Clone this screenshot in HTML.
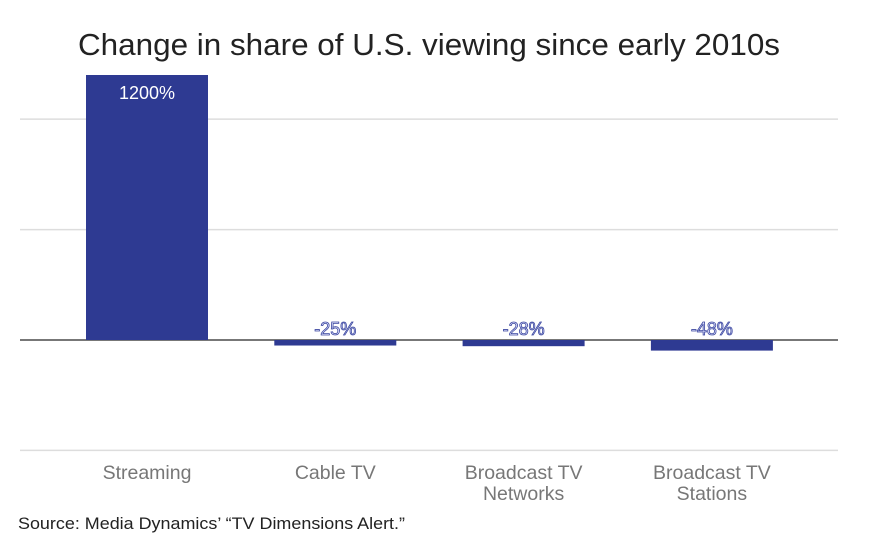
<!DOCTYPE html>
<html><head><meta charset="utf-8">
<style>
body{margin:0;background:#fff;}
svg{display:block;font-family:"Liberation Sans",sans-serif;}
</style></head>
<body>
<svg id="chart" width="894" height="556" viewBox="0 0 894 556">
<text x="429" y="55" text-anchor="middle" font-size="31" fill="#222" textLength="702" lengthAdjust="spacingAndGlyphs">Change in share of U.S. viewing since early 2010s</text>
<g id="grid"></g>
<g id="bars"></g>
<text x="18" y="529" font-size="17" fill="#222" textLength="387" lengthAdjust="spacingAndGlyphs">Source: Media Dynamics’ “TV Dimensions Alert.”</text>
</svg>
<script>
const categories=[["Streaming"],["Cable TV"],["Broadcast TV","Networks"],["Broadcast TV","Stations"]];
const values=[1200,-25,-28,-48];
const valueLabels=["1200%","-25%","-28%","-48%"];
const gridTicks=[1000,500,0,-500];
const NS="http://www.w3.org/2000/svg";
const x0=20,x1=838,zeroY=340,pxPer=265/1200;
function y(v){return zeroY-v*pxPer;}
function xc(i){return 147+i*(188.3);}
const barW=122;
function mk(t,a,p){const e=document.createElementNS(NS,t);for(const k in a)e.setAttribute(k,a[k]);p.appendChild(e);return e;}
const grid=document.getElementById('grid'),bars=document.getElementById('bars');
gridTicks.forEach(t=>{
  const l=mk('line',{x1:x0,x2:x1,y1:y(t),y2:y(t),stroke:t===0?'#777':'#ddd','stroke-width':t===0?2:1.5},grid);
  
  
});
values.forEach((v,i)=>{
  const top=Math.min(y(v),zeroY),h=Math.abs(y(v)-zeroY);
  const r=mk('rect',{x:xc(i)-barW/2,y:top,width:barW,height:h,fill:'#2e3a92'},bars);
  
  
  const inside=v>0;
  const t=mk('text',{x:xc(i),y:inside?top+24:zeroY-5,'text-anchor':'middle','font-size':18,fill:'#fff'},bars);
  if(!inside){t.setAttribute('stroke','#3a46a0');t.setAttribute('stroke-width','0.8');t.setAttribute('fill','#e8eaff');}
  t.textContent=valueLabels[i];
  
  
  categories[i].forEach((line,j)=>{
    const c=mk('text',{x:xc(i),y:479+j*21,'text-anchor':'middle','font-size':19.5,fill:'#777'},bars);
    c.textContent=line;
    
    
  });
});
</script>
</body></html>
